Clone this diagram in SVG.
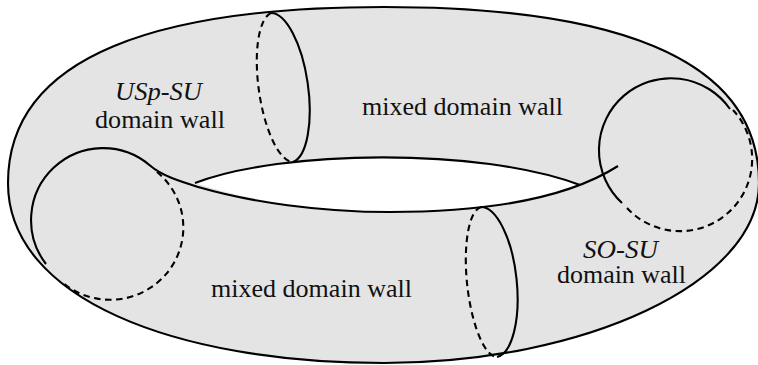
<svg xmlns="http://www.w3.org/2000/svg" width="758" height="365" viewBox="0 0 758 365">
<style>
.ln{fill:none;stroke:#000;stroke-width:2.1;stroke-linecap:butt}
.da{fill:none;stroke:#000;stroke-width:2.1;stroke-dasharray:6.5 4.5}
.lbl{font-family:"Liberation Serif","Times New Roman",Times,Tinos,"Noto Serif","DejaVu Serif",serif;font-size:25px;fill:#111;text-anchor:middle}
.it{font-style:italic}
</style>
<rect width="758" height="365" fill="#fff"/>
<g id="torus">
<path fill="#e4e4e4" fill-rule="evenodd" d="M 8,183 C 8,53 164,7 384,7 C 604,7 759,53 759,183 C 759,283 584,363 384,363 C 174,363 8,298 8,183 Z M 195,183 C 280,150 480,147 580,185 C 550,199 470,212 390,212 C 320,212 250,201 195,183 Z"/>
<path class="ln" d="M 8,183 C 8,53 164,7 384,7 C 604,7 759,53 759,183 C 759,283 584,363 384,363 C 174,363 8,298 8,183 Z"/>
<path class="ln" d="M 195,183 C 280,150 480,147 580,185"/>
<path class="ln" d="M 46,264 A 72 72 0 0 1 150,165.5 C 163,176.6 182,182 200,187.5 C 250,202 320,212 390,212 C 470,212 560,203 618,166"/>
</g>
<g id="left-section">
<path class="da" d="M 157,172 A 73 72 0 0 1 63,283"/>
</g>
<g id="right-section">
<path class="ln" d="M 730,109 A 72 72 0 1 0 622,203"/>
<path class="da" d="M 627,208 A 72 72 0 0 0 733,110"/>
</g>
<g id="top-section">
<path class="ln" d="M 271,13 A 28 75.5 -8 0 1 293,162"/>
<path class="da" d="M 271,13 A 25 75.5 -8 0 0 293,162"/>
</g>
<g id="bottom-section">
<path class="ln" d="M 481,207 A 29 75.5 -6 0 1 497,357"/>
<path class="da" d="M 481,207 A 23 75.5 -6 0 0 497,357"/>
</g>
<g id="label-usp">
<text class="lbl it" x="158.5" y="100" textLength="87" lengthAdjust="spacingAndGlyphs">USp-SU</text>
<text class="lbl" x="160" y="128" textLength="130" lengthAdjust="spacingAndGlyphs">domain wall</text>
</g>
<g id="label-mixed-top">
<text class="lbl" x="462.5" y="115" textLength="201" lengthAdjust="spacingAndGlyphs">mixed domain wall</text>
</g>
<g id="label-mixed-bottom">
<text class="lbl" x="311.5" y="297" textLength="201" lengthAdjust="spacingAndGlyphs">mixed domain wall</text>
</g>
<g id="label-so">
<text class="lbl it" x="620.5" y="258" textLength="75" lengthAdjust="spacingAndGlyphs">SO-SU</text>
<text class="lbl" x="621.5" y="283" textLength="129" lengthAdjust="spacingAndGlyphs">domain wall</text>
</g>
</svg>
